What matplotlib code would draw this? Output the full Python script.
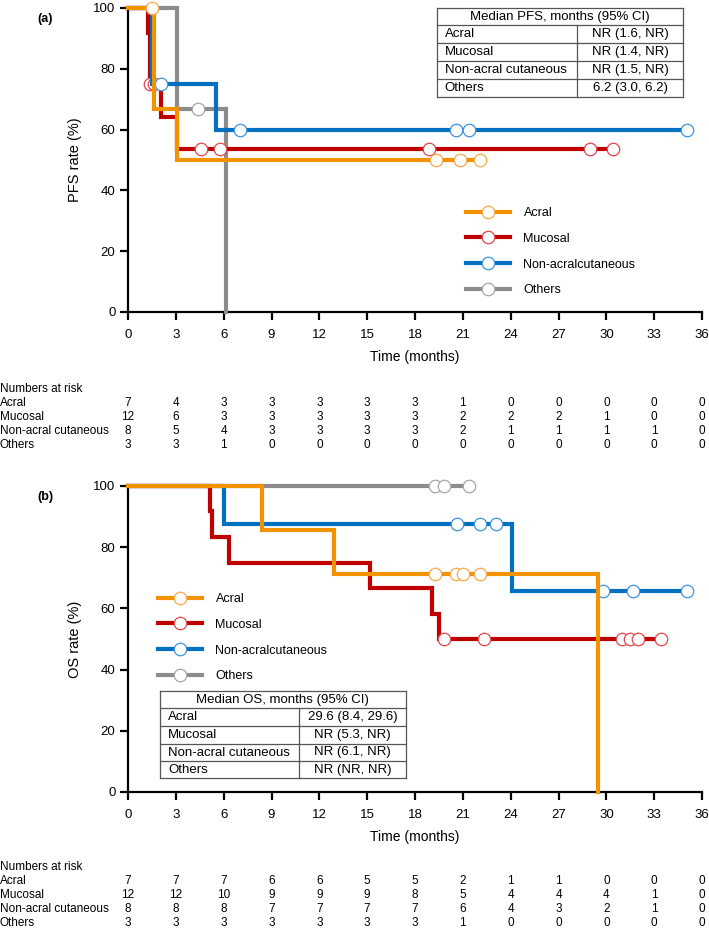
import numpy as np
import matplotlib
matplotlib.use('Agg')
import matplotlib.pyplot as plt
from matplotlib.lines import Line2D
from matplotlib.transforms import blended_transform_factory

plt.rcParams['font.family'] = ['Liberation Sans', 'DejaVu Sans']

W, H = 709, 930

legend_labels = ['Acral', 'Mucosal', 'Non-acralcutaneous', 'Others']
risk_labels = ['Acral', 'Mucosal', 'Non-acral cutaneous', 'Others']
colors = ['#F39200', '#C00000', '#0070C0', '#8C8C8C']
edge_colors = ['#F6A94A', '#E0474C', '#3D94DE', '#A6A6A6']
risk_times = list(range(0, 37, 3))

# PFS curves: step times, rates (%), censored times
pfs_t = [[0, 1.6, 3.05, 22.1],
         [0, 1.25, 1.35, 2.1, 3.05, 30.4],
         [0, 1.5, 5.55, 35.05],
         [0, 3.05, 6.15]]
pfs_s = [[100, 66.7, 50.0, 50.0],
         [100, 91.7, 75.0, 64.3, 53.6, 53.6],
         [100, 75.0, 60.0, 60.0],
         [100, 66.7, 0]]
pfs_cens = [[1.5, 19.3, 20.8, 22.1],
            [1.4, 1.6, 4.6, 5.8, 18.9, 29.0, 30.4],
            [2.05, 7.05, 20.6, 21.4, 35.05],
            [4.4]]
pfs_risk = [[7, 4, 3, 3, 3, 3, 3, 1, 0, 0, 0, 0, 0],
            [12, 6, 3, 3, 3, 3, 3, 2, 2, 2, 1, 0, 0],
            [8, 5, 4, 3, 3, 3, 3, 2, 1, 1, 1, 1, 0],
            [3, 3, 1, 0, 0, 0, 0, 0, 0, 0, 0, 0, 0]]
pfs_table = [['Acral', 'NR (1.6, NR)'],
             ['Mucosal', 'NR (1.4, NR)'],
             ['Non-acral cutaneous', 'NR (1.5, NR)'],
             ['Others', '6.2 (3.0, 6.2)']]

# OS curves
os_t = [[0, 8.4, 12.9, 29.5],
        [0, 5.14, 5.29, 6.35, 15.15, 19.05, 19.5, 33.4],
        [0, 6.0, 24.1, 35.05],
        [0, 21.4]]
os_s = [[100, 85.7, 71.4, 0],
        [100, 91.7, 83.3, 75.0, 66.7, 58.3, 50.0, 50.0],
        [100, 87.5, 65.6, 65.6],
        [100, 100]]
os_cens = [[19.25, 20.6, 21.0, 22.1],
           [19.8, 22.3, 31.0, 31.5, 32.0, 33.4],
           [20.66, 22.1, 23.1, 29.8, 31.7, 35.05],
           [19.25, 19.8, 21.4]]
os_risk = [[7, 7, 7, 6, 6, 5, 5, 2, 1, 1, 0, 0, 0],
           [12, 12, 10, 9, 9, 9, 8, 5, 4, 4, 4, 1, 0],
           [8, 8, 8, 7, 7, 7, 7, 6, 4, 3, 2, 1, 0],
           [3, 3, 3, 3, 3, 3, 3, 1, 0, 0, 0, 0, 0]]
os_table = [['Acral', '29.6 (8.4, 29.6)'],
            ['Mucosal', 'NR (5.3, NR)'],
            ['Non-acral cutaneous', 'NR (6.1, NR)'],
            ['Others', 'NR (NR, NR)']]


def fx(x):
    return x / W


def fy(y):
    return 1 - y / H


def draw_panel(ax, t_list, s_list, c_list):
    # draw order: others, mucosal, non-acral, acral on top
    for k, i in enumerate([3, 1, 2, 0]):
        t = np.array(t_list[i])
        s = np.array(s_list[i])
        c = np.array(c_list[i])
        ax.step(t, s, where='post', color=colors[i], lw=3.0,
                solid_joinstyle='miter', clip_on=False, zorder=3 + k)
        idx = np.searchsorted(t, c, side='right') - 1
        ax.plot(c, s[idx], ls='none', marker='o', ms=9, mfc='white',
                mec=edge_colors[i], mew=0.9, clip_on=False, zorder=3 + k)
    ax.set_xlim(0, 36)
    ax.set_ylim(0, 100)
    ax.set_xticks(risk_times)
    ax.set_yticks(range(0, 101, 20))
    for sp in ['top', 'right']:
        ax.spines[sp].set_visible(False)
    for sp in ['left', 'bottom']:
        ax.spines[sp].set_linewidth(1.6)
    ax.tick_params(length=6, width=1.6, labelsize=9.5, pad=3)
    ax.tick_params(axis='x', pad=6)


def draw_risk(fig, ax, risk, y0):
    tr = blended_transform_factory(ax.transData, fig.transFigure)
    fig.text(0.0, fy(y0), 'Numbers at risk', fontsize=8.5, va='center')
    for r, name in enumerate(risk_labels):
        yy = fy(y0 + 14 * (r + 1))
        fig.text(0.0, yy, name, fontsize=8.5, va='center')
        for tm, n in zip(risk_times, risk[r]):
            ax.text(tm, yy, str(n), transform=tr, fontsize=8.5,
                    ha='center', va='center', clip_on=False)


def draw_table(fig, left, right, div, lines_y, title, rows):
    kw = dict(color='#555555', lw=0.9, transform=fig.transFigure)
    for y in lines_y:
        fig.add_artist(Line2D([fx(left), fx(right)], [fy(y), fy(y)], **kw))
    fig.add_artist(Line2D([fx(left), fx(left)], [fy(lines_y[0]), fy(lines_y[-1])], **kw))
    fig.add_artist(Line2D([fx(right), fx(right)], [fy(lines_y[0]), fy(lines_y[-1])], **kw))
    fig.add_artist(Line2D([fx(div), fx(div)], [fy(lines_y[1]), fy(lines_y[-1])], **kw))
    fig.text(fx((left + right) / 2), fy((lines_y[0] + lines_y[1]) / 2), title,
             fontsize=9.5, ha='center', va='center')
    for r, (name, val) in enumerate(rows):
        yc = fy((lines_y[r + 1] + lines_y[r + 2]) / 2)
        fig.text(fx(left + 8), yc, name, fontsize=9.5, va='center')
        fig.text(fx((div + right) / 2), yc, val, fontsize=9.5, ha='center', va='center')


def add_legend(ax, fig, x, y):
    handles = [Line2D([], [], color=colors[i], lw=3.0, marker='o', ms=9,
                      mfc='white', mec=edge_colors[i], mew=0.9) for i in range(4)]
    ax.legend(handles, legend_labels, loc='upper left', bbox_to_anchor=(fx(x), fy(y)),
              bbox_transform=fig.transFigure, frameon=False, fontsize=9,
              handlelength=3.5, handletextpad=1.1, labelspacing=1.1,
              borderpad=0, borderaxespad=0, numpoints=1)


fig = plt.figure(figsize=(W / 100, H / 100), dpi=100)

# (a) PFS
ax1 = fig.add_axes([fx(128), fy(312), fx(574), (312 - 8) / H])
draw_panel(ax1, pfs_t, pfs_s, pfs_cens)
ax1.set_ylabel('PFS rate (%)', fontsize=10.5, labelpad=8)
ax1.set_xlabel('Time (months)', fontsize=10, labelpad=7)
draw_risk(fig, ax1, pfs_risk, 389)
draw_table(fig, 436.7, 683.3, 576.7, [8.3, 25, 42.7, 61, 78.7, 96.7],
           'Median PFS, months (95% CI)', pfs_table)
add_legend(ax1, fig, 466, 207)
fig.text(fx(37), fy(19), '(a)', fontsize=9, fontweight='bold', va='center')

# (b) OS
ax2 = fig.add_axes([fx(128), fy(792), fx(574), (792 - 486) / H])
draw_panel(ax2, os_t, os_s, os_cens)
ax2.set_ylabel('OS rate (%)', fontsize=10.5, labelpad=8)
ax2.set_xlabel('Time (months)', fontsize=10, labelpad=7)
draw_risk(fig, ax2, os_risk, 867)
draw_table(fig, 160, 405.7, 299.3, [690.7, 708.3, 726, 744, 761, 778.3],
           'Median OS, months (95% CI)', os_table)
add_legend(ax2, fig, 158, 593)
fig.text(fx(37), fy(497), '(b)', fontsize=9, fontweight='bold', va='center')

fig.savefig('out.png', dpi=100)
